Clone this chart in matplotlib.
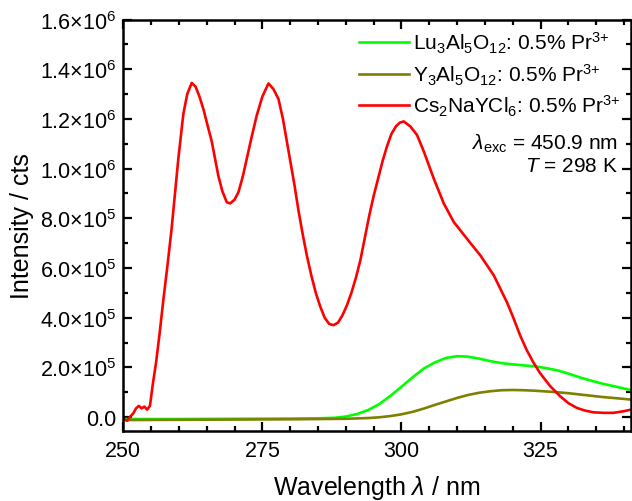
import matplotlib
matplotlib.use("Agg")
import matplotlib.pyplot as plt
from matplotlib.ticker import FuncFormatter, MultipleLocator

plt.rcParams['font.family'] = ['Liberation Sans', 'DejaVu Sans']
plt.rcParams['mathtext.fontset'] = 'custom'
plt.rcParams['mathtext.rm'] = 'Liberation Sans'
plt.rcParams['mathtext.it'] = 'Liberation Sans:italic'
plt.rcParams['mathtext.bf'] = 'Liberation Sans:bold'

# Cs2NaYCl6 (red), values
wl_cs = [250.3, 250.7, 251.2, 251.8, 252.3, 252.8, 253.3, 253.8, 254.3, 254.8,
         255.3, 255.9, 256.5, 257.2, 258.0, 258.7, 259.3, 259.9, 260.8, 261.5,
         262.3, 263.0, 263.7, 264.4, 265.2, 265.9, 266.5, 267.1, 267.8, 268.6,
         269.2, 270.0, 270.7, 271.5, 272.2, 273.1, 274.0, 275.0, 276.1, 277.0,
         277.9, 278.7, 279.4, 280.1, 280.8, 281.5, 282.3, 283.0, 283.8, 284.6,
         285.4, 286.2, 287.0, 287.8, 288.6, 289.4, 290.2, 291.0, 291.8, 292.6,
         293.4, 294.2, 295.0, 295.8, 296.6, 297.4, 298.2, 299.0, 299.7, 300.4,
         301.6, 302.8, 304.0, 305.8, 307.6, 309.4, 311.8, 314.2, 316.6, 319.0,
         320.1, 321.3, 322.5, 323.7, 324.9, 326.7, 328.5, 330.0, 331.5,
         333.0, 334.5, 336.3, 338.1, 339.8, 341.3]
int_cs = [-1.0e4, -1.5e4, 0.0, 1.5e4, 3.5e4, 4.5e4, 3.5e4, 4.2e4, 3.0e4, 4.5e4,
          1.3e5, 2.2e5, 3.3e5, 4.7e5, 6.2e5, 7.6e5, 9.0e5, 1.04e6, 1.22e6, 1.30e6,
          1.345e6, 1.33e6, 1.29e6, 1.24e6, 1.17e6, 1.11e6, 1.04e6, 9.7e5, 9.1e5, 8.65e5,
          8.6e5, 8.75e5, 9.05e5, 9.7e5, 1.04e6, 1.13e6, 1.215e6, 1.29e6, 1.343e6, 1.32e6,
          1.28e6, 1.20e6, 1.11e6, 1.02e6, 9.3e5, 8.3e5, 7.3e5, 6.5e5, 5.7e5, 5.0e5,
          4.45e5, 4.0e5, 3.75e5, 3.7e5, 3.8e5, 4.1e5, 4.5e5, 5.0e5, 5.6e5, 6.3e5,
          7.2e5, 8.1e5, 8.9e5, 9.6e5, 1.03e6, 1.09e6, 1.14e6, 1.17e6, 1.185e6, 1.19e6,
          1.17e6, 1.135e6, 1.07e6, 9.6e5, 8.6e5, 7.85e5, 7.17e5, 6.5e5, 5.7e5, 4.6e5,
          4.0e5, 3.3e5, 2.7e5, 2.2e5, 1.77e5, 1.25e5, 8.4e4, 5.6e4, 3.7e4,
          2.6e4, 1.9e4, 1.7e4, 1.7e4, 2.3e4, 3.0e4]

# Lu3Al5O12 (green)
wl_lu = [250.5, 260, 270, 280, 285, 288, 290, 292, 294, 296, 298, 300, 302, 304,
         306, 308, 310, 312, 314, 316, 318, 320, 322, 324, 326, 328, 330, 332,
         334, 336, 338, 340, 341.3]
int_lu = [-8e3, -8e3, -7e3, -6e3, -5e3, -3e3, 2e3, 1.2e4, 2.8e4, 5.2e4, 8.5e4,
          1.22e5, 1.6e5, 1.95e5, 2.2e5, 2.38e5, 2.45e5, 2.43e5, 2.35e5, 2.25e5,
          2.17e5, 2.12e5, 2.08e5, 2.04e5, 1.97e5, 1.88e5, 1.75e5, 1.6e5, 1.47e5,
          1.35e5, 1.25e5, 1.15e5, 1.08e5]

# Y3Al5O12 (olive)
wl_y = [250.5, 260, 270, 280, 290, 294, 296, 298, 300, 302, 304, 306, 308, 310,
        312, 314, 316, 318, 320, 322, 324, 326, 328, 330, 332, 334, 336, 338,
        340, 341.3]
int_y = [-1.2e4, -1.1e4, -1.0e4, -9e3, -7e3, -4e3, -1e3, 4e3, 1.1e4, 2.1e4,
         3.4e4, 4.9e4, 6.3e4, 7.7e4, 8.9e4, 9.8e4, 1.04e5, 1.08e5, 1.09e5,
         1.08e5, 1.06e5, 1.03e5, 1.0e5, 9.6e4, 9.1e4, 8.6e4, 8.1e4, 7.7e4,
         7.3e4, 7.0e4]

labels = [r'Lu$_3$Al$_5$O$_{12}$: 0.5% Pr$^{3{+}}$',
          r'Y$_3$Al$_5$O$_{12}$: 0.5% Pr$^{3{+}}$',
          r'Cs$_2$NaYCl$_6$: 0.5% Pr$^{3{+}}$']


def sci_fmt(v, pos):
    if abs(v) < 1:
        return '0.0'
    e = 0
    m = v
    while abs(m) >= 10:
        m /= 10
        e += 1
    return r'%.1f$\times$10$^{%d}$' % (m, e)


fig = plt.figure(figsize=(6.32, 5.02), dpi=100)
ax = fig.add_axes([0.195, 0.140, 0.803, 0.819])

lw = 1.9
ax.plot(wl_lu, int_lu, color='#00ff00', lw=lw, label=labels[0])
ax.plot(wl_y, int_y, color='#808000', lw=lw, label=labels[1])
ax.plot(wl_cs, int_cs, color='#ff0000', lw=lw, label=labels[2])

ax.set_xlim(250, 341.2)
ax.set_ylim(-5.5e4, 1.6e6)
ax.xaxis.set_major_locator(MultipleLocator(25))
ax.xaxis.set_minor_locator(MultipleLocator(5))
ax.yaxis.set_major_locator(MultipleLocator(2e5))
ax.yaxis.set_minor_locator(MultipleLocator(1e5))
ax.yaxis.set_major_formatter(FuncFormatter(sci_fmt))

for s in ax.spines.values():
    s.set_linewidth(1.8)
ax.tick_params(which='both', direction='in', top=True, right=True, width=1.6,
               labelsize=15.5)
ax.tick_params(axis='x', pad=7)
ax.tick_params(axis='y', pad=5)
ax.tick_params(which='major', length=6.5)
ax.tick_params(which='minor', length=3.5)

ax.set_xlabel(r'Wavelength $\lambda$ / nm', fontsize=18, labelpad=8)
ax.set_ylabel('Intensity / cts', fontsize=18, labelpad=4)

leg = ax.legend(loc='upper right', frameon=False, fontsize=15,
                handlelength=2.4, handletextpad=0.2, labelspacing=0.3,
                borderaxespad=0.3, borderpad=0.2)

ax.text(0.975, 0.700, r'$\lambda_{\mathrm{exc}}$ = 450.9 nm', transform=ax.transAxes,
        ha='right', va='center', fontsize=15)
ax.text(0.975, 0.645, r'$T$ = 298 K', transform=ax.transAxes,
        ha='right', va='center', fontsize=15)

fig.savefig('out.png', dpi=100)
